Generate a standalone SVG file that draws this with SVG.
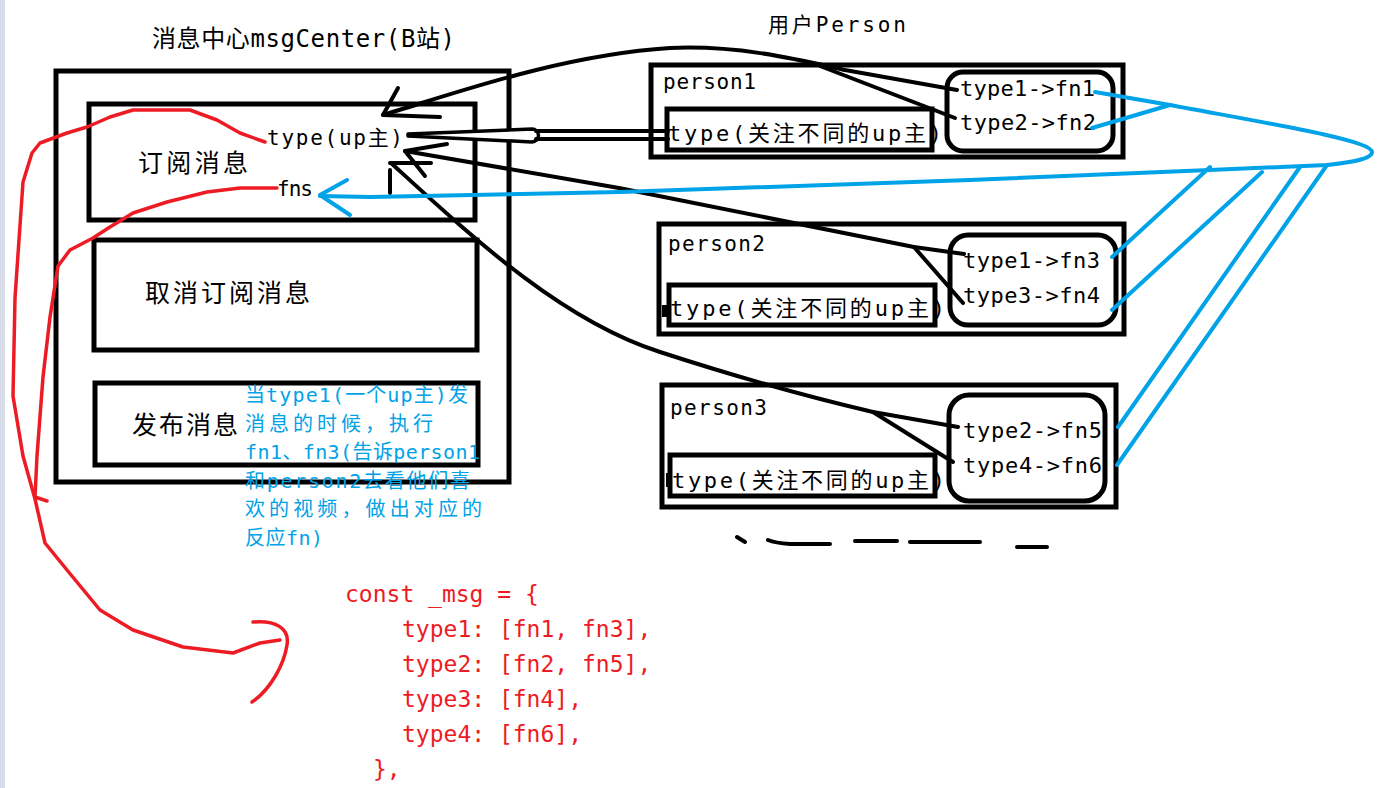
<svg xmlns="http://www.w3.org/2000/svg" width="1393" height="788" viewBox="0 0 1393 788">
<style>
.box{fill:none;stroke:#000;stroke-width:5}
.k{fill:none;stroke:#000;stroke-width:4;stroke-linecap:round;stroke-linejoin:round}
.b{fill:none;stroke:#00a2e8;stroke-width:4;stroke-linecap:round;stroke-linejoin:round}
.r{fill:none;stroke:#ed1c24;stroke-width:3.5;stroke-linecap:round;stroke-linejoin:round}
.cn{font-family:"Noto Sans CJK SC","DejaVu Sans",sans-serif;fill:#000}
.mo{font-family:"DejaVu Sans Mono","Noto Sans CJK SC",monospace;fill:#000}
.blue{font-family:"DejaVu Sans Mono","Noto Sans CJK SC",monospace;fill:#00a2e8;font-size:20px}
.red{font-family:"DejaVu Sans Mono","Noto Sans CJK SC",monospace;fill:#ed1c24;font-size:23px}
</style>
<rect x="0" y="0" width="1393" height="788" fill="#fff"/>
<rect x="0" y="0" width="5" height="788" fill="#d8dde9"/>

<g id="titles">
<text class="mo" x="152" y="47" font-size="24" textLength="303" lengthAdjust="spacing">消息中心msgCenter(B站)</text>
<text class="mo" x="768" y="32" font-size="21" textLength="138" lengthAdjust="spacing">用户Person</text>
</g>

<g id="msgCenter">
<rect class="box" x="56" y="71" width="453" height="411"/>
</g>
<g id="subscribe">
<rect class="box" x="89" y="104" width="386" height="116"/>
<text class="cn" x="138" y="172" font-size="25" textLength="110" lengthAdjust="spacing">订阅消息</text>
<text class="mo" x="267" y="145" font-size="21" textLength="136" lengthAdjust="spacing">type(up主)</text>
<text class="mo" x="277" y="196" font-size="21" textLength="36" lengthAdjust="spacing">fns</text>
</g>
<g id="unsubscribe">
<rect class="box" x="94" y="240" width="383" height="110"/>
<text class="cn" x="145" y="302" font-size="25" textLength="165" lengthAdjust="spacing">取消订阅消息</text>
</g>
<g id="publish">
<rect class="box" x="95" y="383" width="383" height="82"/>
<text class="cn" x="132" y="434" font-size="25" textLength="106" lengthAdjust="spacing">发布消息</text>
</g>

<g id="person1">
<rect class="box" x="651" y="65" width="472" height="92"/>
<text class="mo" x="663" y="89" font-size="21" textLength="93" lengthAdjust="spacing">person1</text>
<rect class="box" x="667" y="109" width="265" height="41"/>
<text class="mo" x="668" y="141" font-size="22" textLength="274" lengthAdjust="spacing">type(关注不同的up主)</text>
<rect class="box" x="947" y="72" width="166" height="79" rx="16"/>
<text class="mo" x="960" y="96" font-size="22" textLength="135" lengthAdjust="spacing">type1-&gt;fn1</text>
<text class="mo" x="960" y="130" font-size="22" textLength="136" lengthAdjust="spacing">type2-&gt;fn2</text>
</g>

<g id="person2">
<rect class="box" x="659" y="224" width="465" height="110"/>
<text class="mo" x="668" y="251" font-size="21" textLength="97" lengthAdjust="spacing">person2</text>
<rect class="box" x="669" y="285" width="266" height="40"/>
<rect x="662" y="305" width="8" height="12" fill="#000"/>
<text class="mo" x="670" y="316" font-size="22" textLength="275" lengthAdjust="spacing">type(关注不同的up主)</text>
<rect class="box" x="950" y="235" width="166" height="90" rx="18"/>
<text class="mo" x="963" y="268" font-size="22" textLength="137" lengthAdjust="spacing">type1-&gt;fn3</text>
<text class="mo" x="963" y="303" font-size="22" textLength="137" lengthAdjust="spacing">type3-&gt;fn4</text>
</g>

<g id="person3">
<rect class="box" x="662" y="385" width="454" height="122"/>
<text class="mo" x="670" y="415" font-size="21" textLength="97" lengthAdjust="spacing">person3</text>
<rect class="box" x="670" y="455" width="265" height="41"/>
<rect x="666" y="473" width="5" height="14" fill="#000"/>
<text class="mo" x="672" y="488" font-size="22" textLength="273" lengthAdjust="spacing">type(关注不同的up主)</text>
<rect class="box" x="949" y="395" width="156" height="106" rx="20"/>
<text class="mo" x="963" y="438" font-size="22" textLength="139" lengthAdjust="spacing">type2-&gt;fn5</text>
<text class="mo" x="963" y="473" font-size="22" textLength="139" lengthAdjust="spacing">type4-&gt;fn6</text>
</g>

<g id="connectors">
<path class="k" d="M383,115 C450,95 560,55 670,48 C740,45 800,60 845,70 L957,90"/>
<path class="k" d="M820,66 L955,118"/>
<path class="k" d="M398,88 L383,115 L440,117"/>
<path d="M408,134 L532,129 A6.5,6.5 0 0 1 532,142 L408,136 Z" fill="#fff" stroke="#000" stroke-width="3.5" stroke-linejoin="round"/>
<path class="k" d="M536,131 L668,131 M536,139 L668,139"/>
<path class="k" d="M405,151 L619,188 L914,247 L964,254"/>
<path class="k" d="M914,247 L963,303"/>
<path class="k" d="M447,144 L405,151 L425,176"/>
<path class="k" d="M391,163 C470,235 560,320 660,352 C740,378 800,395 873,412 L958,427"/>
<path class="k" d="M873,412 L953,462"/>
<path class="k" d="M431,163 L390,163 M390,170 L390,193"/>
<path class="b" d="M1095,92 L1170,105 C1260,122 1372,140 1372,152 C1372,160 1345,163 1327,165 L1210,170 L970,180 L620,192 L370,197 L320,196"/>
<path class="b" d="M1092,128 L1170,105"/>
<path class="b" d="M1112,257 L1210,167"/>
<path class="b" d="M1112,310 L1262,172"/>
<path class="b" d="M1118,427 L1300,167"/>
<path class="b" d="M1117,465 L1327,165"/>
<path class="b" d="M347,180 L320,195 L350,215"/>
<path class="r" d="M265,142 L240,133 L217,120 L190,110 L133,110 L110,117 L87,127 L67,133 L40,143 L32,153 L23,182 L15,298 L13,396 L23,456 L35,499 L45,543 L67,570 L100,610 L133,630 L183,647 L233,653 L260,643 L280,640"/>
<path class="r" d="M253,622 C275,620 290,628 287,645 C284,665 270,690 252,702"/>
<path class="r" d="M277,188 L240,188 L207,192 L167,202 L133,213 L110,227 L93,238 L70,250 L58,266 L50,317 L43,377 L37,456 L35,497 L47,501"/>
<path class="k" d="M737,537 L745,542 M768,540 Q775,543 790,544 L830,544 M855,541 L897,541 M910,542 L980,542 M1017,547 L1047,547"/>
</g>

<g id="note">
<text class="blue" x="245" y="402" textLength="223" lengthAdjust="spacing">当type1(一个up主)发</text>
<text class="blue" x="245" y="431" textLength="188" lengthAdjust="spacing">消息的时候，执行</text>
<text class="blue" x="245" y="459" textLength="235" lengthAdjust="spacing">fn1、fn3(告诉person1</text>
<text class="blue" x="245" y="488" textLength="225" lengthAdjust="spacing">和person2去看他们喜</text>
<text class="blue" x="245" y="516" textLength="237" lengthAdjust="spacing">欢的视频，做出对应的</text>
<text class="blue" x="245" y="545" textLength="78" lengthAdjust="spacing">反应fn)</text>
</g>

<g id="code">
<text class="red" x="345" y="602">const _msg = {</text>
<text class="red" x="402" y="637">type1: [fn1, fn3],</text>
<text class="red" x="402" y="672">type2: [fn2, fn5],</text>
<text class="red" x="402" y="707">type3: [fn4],</text>
<text class="red" x="402" y="742">type4: [fn6],</text>
<text class="red" x="373" y="777">},</text>
</g>
</svg>
